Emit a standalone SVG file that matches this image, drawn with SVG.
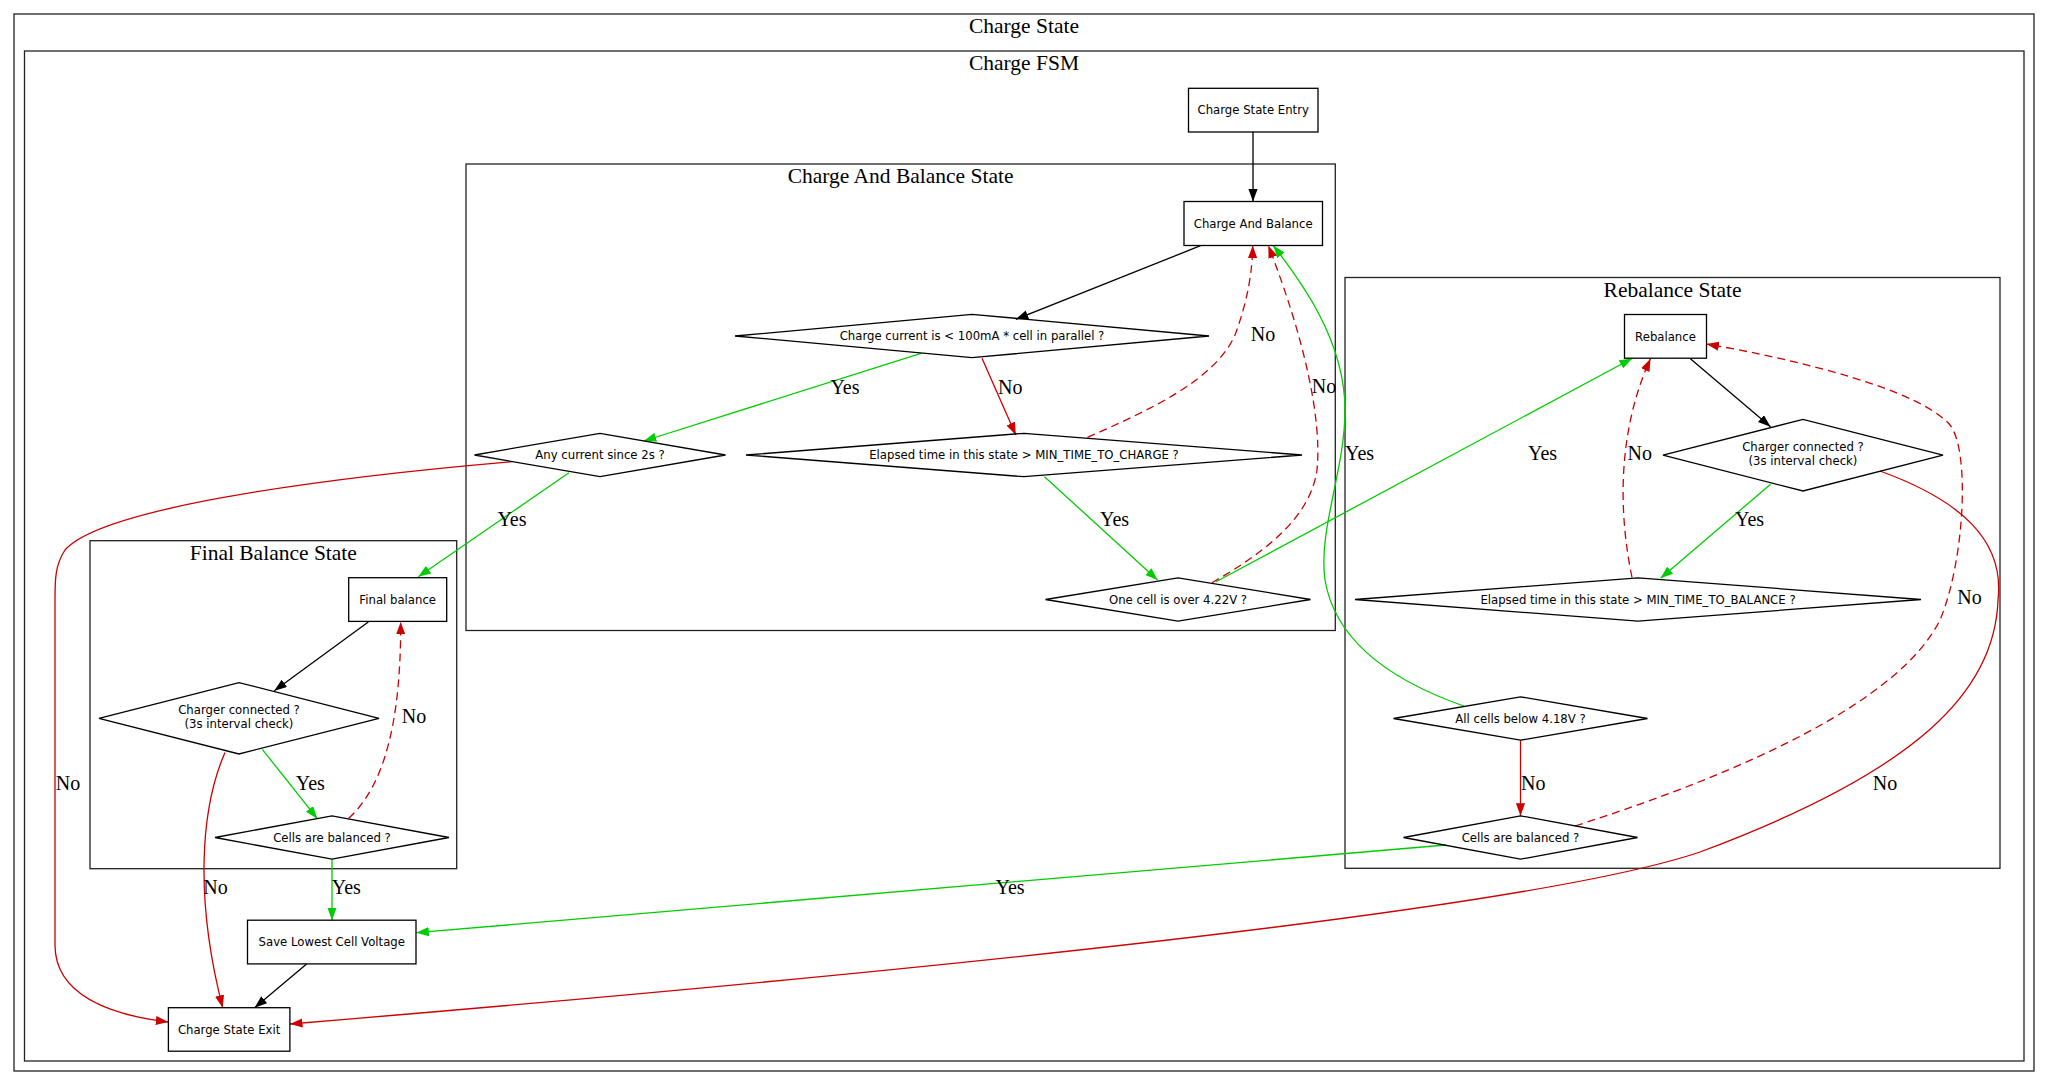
<svg xmlns="http://www.w3.org/2000/svg" width="2048" height="1085" viewBox="0 0 2048 1085">
<style>
.cl{fill:none;stroke:#222;stroke-width:1.3}
.ct{font-family:"Liberation Serif","Times New Roman",serif;font-size:21.5px;fill:#000;text-anchor:middle}
.nd{fill:none;stroke:#000;stroke-width:1.3}
.nt{font-family:"DejaVu Sans",sans-serif;font-size:11.7px;fill:#000;text-anchor:middle}
.e{fill:none;stroke-width:1.3}
.k{stroke:#000}
.g{stroke:#00cd00}
.r{stroke:#cd0000}
.d{stroke-dasharray:8,5}
.lb{font-family:"Liberation Serif","Times New Roman",serif;font-size:20px;fill:#000}
</style>
<defs>
<marker id="ak" viewBox="0 0 12.5 9.2" refX="12.5" refY="4.6" markerWidth="12.5" markerHeight="9.2" markerUnits="userSpaceOnUse" orient="auto"><path d="M0,0 L12.5,4.6 L0,9.2 z" fill="#000"/></marker>
<marker id="ag" viewBox="0 0 12.5 9.2" refX="12.5" refY="4.6" markerWidth="12.5" markerHeight="9.2" markerUnits="userSpaceOnUse" orient="auto"><path d="M0,0 L12.5,4.6 L0,9.2 z" fill="#00cd00"/></marker>
<marker id="ar" viewBox="0 0 12.5 9.2" refX="12.5" refY="4.6" markerWidth="12.5" markerHeight="9.2" markerUnits="userSpaceOnUse" orient="auto"><path d="M0,0 L12.5,4.6 L0,9.2 z" fill="#cd0000"/></marker>
</defs>
<rect x="0" y="0" width="2048" height="1085" fill="#fff"/>
<g id="clusters">
<g id="cluster_charge_state"><rect class="cl" x="14" y="14" width="2020" height="1057"/><text class="ct" x="1024" y="33">Charge State</text></g>
<g id="cluster_charge_fsm"><rect class="cl" x="24.5" y="51" width="1999.5" height="1010"/><text class="ct" x="1024" y="70">Charge FSM</text></g>
<g id="cluster_charge_balance"><rect class="cl" x="466" y="164" width="869.3" height="466.5"/><text class="ct" x="900.6" y="183">Charge And Balance State</text></g>
<g id="cluster_rebalance"><rect class="cl" x="1345" y="277.5" width="655" height="590.8"/><text class="ct" x="1672.5" y="296.5">Rebalance State</text></g>
<g id="cluster_final_balance"><rect class="cl" x="90" y="540.7" width="366.7" height="328"/><text class="ct" x="273.3" y="559.7">Final Balance State</text></g>
</g>
<g id="connectors">
<g id="e1"><path class="e k" marker-end="url(#ak)" d="M1253,132 L1253,201.5"/></g>
<g id="e2"><path class="e k" marker-end="url(#ak)" d="M1200.6,245.7 L1015.8,319.3"/></g>
<g id="e3"><path class="e g" marker-end="url(#ag)" d="M921,353.3 L643.8,441"/><text class="lb" x="830.4" y="393.5">Yes</text></g>
<g id="e4"><path class="e r" marker-end="url(#ar)" d="M982,358.3 L1015.8,435"/><text class="lb" x="998" y="393.5">No</text></g>
<g id="e5"><path class="e r d" marker-end="url(#ar)" d="M1087.5,437.3 C1150,410 1215,380 1235,335 C1248,300 1252.5,270 1252.7,245.5"/><text class="lb" x="1250.7" y="341">No</text></g>
<g id="e6"><path class="e g" marker-end="url(#ag)" d="M1044.5,476.7 L1157.6,580"/><text class="lb" x="1100" y="526">Yes</text></g>
<g id="e7"><path class="e r d" marker-end="url(#ar)" d="M1212,582.7 C1260,555 1310,520 1317,470 C1322,420 1305,340 1268.3,245.5"/><text class="lb" x="1311.7" y="393.3">No</text></g>
<g id="e8"><path class="e g" marker-end="url(#ag)" d="M1216,581.7 L1632,358.5"/><text class="lb" x="1528" y="460">Yes</text></g>
<g id="e9"><path class="e g" marker-end="url(#ag)" d="M1463.7,706 C1390,680 1335,640 1325,580 C1318,530 1345,470 1345,410 C1345,340 1300,280 1273.3,245.5"/><text class="lb" x="1345" y="460">Yes</text></g>
<g id="e10"><path class="e k" marker-end="url(#ak)" d="M1690.4,358.7 L1770.5,426.7"/></g>
<g id="e11"><path class="e g" marker-end="url(#ag)" d="M1770.5,484.3 L1660.6,578.3"/><text class="lb" x="1735" y="526.4">Yes</text></g>
<g id="e12"><path class="e r d" marker-end="url(#ar)" d="M1632,577.3 C1618,510 1618,430 1650.5,358.7"/><text class="lb" x="1627.6" y="460">No</text></g>
<g id="e13"><path class="e r" marker-end="url(#ar)" d="M1880,471 C1960,500 2005,540 1998,600 C1995,690 1920,770 1700,852 C1500,920 700,990 290,1024"/><text class="lb" x="1872.7" y="789.8">No</text></g>
<g id="e14"><path class="e r d" marker-end="url(#ar)" d="M1575,826 C1750,770 1900,700 1940,620 C1965,560 1970,450 1950,425 C1920,390 1800,360 1706.5,344"/><text class="lb" x="1957.3" y="604">No</text></g>
<g id="e15"><path class="e r" marker-end="url(#ar)" d="M1520.5,740.2 L1520.5,815.8"/><text class="lb" x="1521" y="790">No</text></g>
<g id="e16"><path class="e g" marker-end="url(#ag)" d="M1445.8,845 L416.4,932.7"/><text class="lb" x="995.5" y="894">Yes</text></g>
<g id="e17"><path class="e g" marker-end="url(#ag)" d="M569,472.7 L418.3,576.7"/><text class="lb" x="497.4" y="526">Yes</text></g>
<g id="e18"><path class="e r" marker-end="url(#ar)" d="M511.8,461.7 C300,480 100,510 65,550 C55,565 55,580 55,600 L55,945 C55,995 110,1015 168.3,1022"/><text class="lb" x="55.7" y="790">No</text></g>
<g id="e19"><path class="e k" marker-end="url(#ak)" d="M368.3,622 L274.3,690.7"/></g>
<g id="e20"><path class="e g" marker-end="url(#ag)" d="M262.3,749.3 L317.3,818.7"/><text class="lb" x="295.7" y="790">Yes</text></g>
<g id="e21"><path class="e r d" marker-end="url(#ar)" d="M348.7,818.3 C385,785 401,720 400.7,621.9"/><text class="lb" x="401.7" y="723">No</text></g>
<g id="e22"><path class="e r" marker-end="url(#ar)" d="M225,752.4 C200,810 195,900 222.7,1007.8"/><text class="lb" x="203.3" y="894">No</text></g>
<g id="e23"><path class="e g" marker-end="url(#ag)" d="M332,859.2 L332,920.2"/><text class="lb" x="331.7" y="894">Yes</text></g>
<g id="e24"><path class="e k" marker-end="url(#ak)" d="M306.6,964 L254.6,1007.7"/></g>
</g>
<g id="nodes">
<g id="charge_state_entry"><rect class="nd" x="1188.5" y="88.3" width="129.5" height="43.7"/><text class="nt" x="1253.2" y="114.4">Charge State Entry</text></g>
<g id="charge_and_balance"><rect class="nd" x="1184" y="201.5" width="138.5" height="44"/><text class="nt" x="1253.2" y="227.7">Charge And Balance</text></g>
<g id="q_charge_current"><polygon class="nd" points="735,336 972,314.3 1209,336 972,357.7"/><text class="nt" x="972" y="340.2">Charge current is &lt; 100mA * cell in parallel ?</text></g>
<g id="q_any_current"><polygon class="nd" points="474.5,455 600,433.3 725.5,455 600,476.7"/><text class="nt" x="600" y="459.2">Any current since 2s ?</text></g>
<g id="q_elapsed_charge"><polygon class="nd" points="746,455 1024,433.3 1302,455 1024,476.7"/><text class="nt" x="1024" y="459.2">Elapsed time in this state &gt; MIN_TIME_TO_CHARGE ?</text></g>
<g id="q_one_cell"><polygon class="nd" points="1045.5,599.5 1178,577.8 1310.5,599.5 1178,621.2"/><text class="nt" x="1178" y="603.7">One cell is over 4.22V ?</text></g>
<g id="rebalance"><rect class="nd" x="1624.5" y="314.5" width="82" height="43.7"/><text class="nt" x="1665.5" y="340.5">Rebalance</text></g>
<g id="q_charger_rb"><polygon class="nd" points="1663,455.2 1803,419.4 1943,455.2 1803,491"/><text class="nt" x="1803" y="451.3">Charger connected ?</text><text class="nt" x="1803" y="464.8">(3s interval check)</text></g>
<g id="q_elapsed_balance"><polygon class="nd" points="1355,599.5 1638,577.8 1921,599.5 1638,621.2"/><text class="nt" x="1638" y="603.7">Elapsed time in this state &gt; MIN_TIME_TO_BALANCE ?</text></g>
<g id="q_all_cells"><polygon class="nd" points="1393.5,718.5 1520.5,696.8 1647.5,718.5 1520.5,740.2"/><text class="nt" x="1520.5" y="722.7">All cells below 4.18V ?</text></g>
<g id="q_balanced_rb"><polygon class="nd" points="1403.5,837.5 1520.5,815.8 1637.5,837.5 1520.5,859.2"/><text class="nt" x="1520.5" y="841.7">Cells are balanced ?</text></g>
<g id="final_balance"><rect class="nd" x="348.7" y="577.7" width="98" height="43.7"/><text class="nt" x="397.7" y="603.7">Final balance</text></g>
<g id="q_charger_fb"><polygon class="nd" points="99,718.3 239,682.6 379,718.3 239,754"/><text class="nt" x="239" y="714.4">Charger connected ?</text><text class="nt" x="239" y="727.9">(3s interval check)</text></g>
<g id="q_balanced_fb"><polygon class="nd" points="215,837.5 332,815.8 449,837.5 332,859.2"/><text class="nt" x="332" y="841.7">Cells are balanced ?</text></g>
<g id="save_lowest"><rect class="nd" x="247.5" y="920.2" width="168.5" height="43.7"/><text class="nt" x="331.75" y="946.2">Save Lowest Cell Voltage</text></g>
<g id="charge_state_exit"><rect class="nd" x="168.4" y="1007.7" width="121.5" height="43.5"/><text class="nt" x="229.1" y="1033.7">Charge State Exit</text></g>
</g>
</svg>
